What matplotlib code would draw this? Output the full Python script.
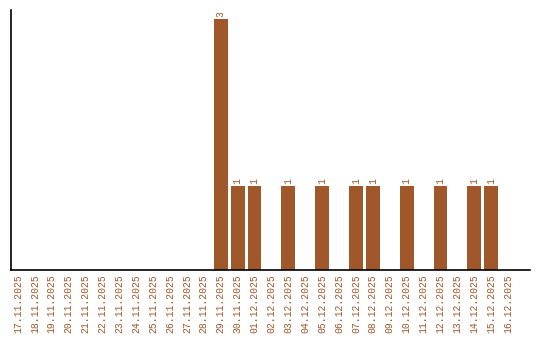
'''
Daily counts bar chart, 17.11.2025 - 16.12.2025.
'''

from matplotlib import pyplot as pl

# Dates on the x axis and the count for each day
dates = [
         '17.11.2025', '18.11.2025', '19.11.2025', '20.11.2025',
         '21.11.2025', '22.11.2025', '23.11.2025', '24.11.2025',
         '25.11.2025', '26.11.2025', '27.11.2025', '28.11.2025',
         '29.11.2025', '30.11.2025', '01.12.2025', '02.12.2025',
         '03.12.2025', '04.12.2025', '05.12.2025', '06.12.2025',
         '07.12.2025', '08.12.2025', '09.12.2025', '10.12.2025',
         '11.12.2025', '12.12.2025', '13.12.2025', '14.12.2025',
         '15.12.2025', '16.12.2025',
         ]
counts = [
          0, 0, 0, 0, 0, 0, 0, 0, 0, 0, 0, 0,
          3, 1, 1, 0, 1, 0, 1, 0, 1, 1, 0, 1,
          0, 1, 0, 1, 1, 0,
          ]

color = '#a0572a'
font = 'Liberation Mono'

fig = pl.figure(figsize=(5.4, 3.4), dpi=100)
ax = fig.add_axes([11/540, 70/340, 519/540, 260/340])

x = list(range(len(dates)))
ax.bar(x, counts, width=0.82, color=color)

# Value labels above non-empty bars
for i, c in zip(x, counts):
    if c > 0:
        ax.text(
                i, c + 0.03, str(c),
                rotation=90, ha='center', va='bottom',
                color=color, fontsize=7, family=font
                )

ax.set_xlim(-0.41, 30.3)
ax.set_ylim(0, 3.11)
ax.set_xticks(x)
ax.set_xticklabels(dates, rotation=90, color=color, fontsize=7, family=font)
ax.tick_params(axis='x', length=0, pad=3)
ax.set_yticks([])

for side in ['top', 'right']:
    ax.spines[side].set_visible(False)
for side in ['left', 'bottom']:
    ax.spines[side].set_linewidth(1.2)

fig.savefig('out.png', dpi=100)
